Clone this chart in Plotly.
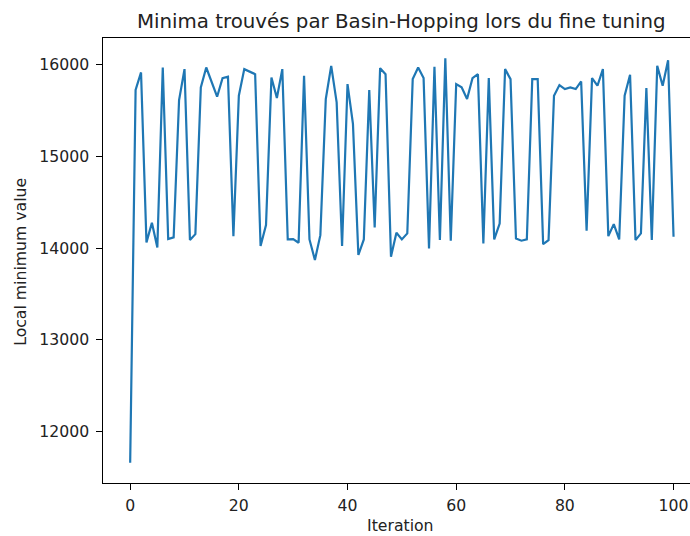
import plotly.graph_objects as go

# Local minima reached at each Basin-Hopping iteration
iterations = list(range(101))
minima = [
    11655, 15725, 15917, 14062, 14275, 14007, 15971, 14098, 14116, 15616,
    15953, 14087, 14152, 15754, 15971, 15812, 15652, 15855, 15870, 14130,
    15663, 15953, 15927, 15898, 14022, 14250, 15862, 15638, 15953, 14094,
    14098, 14058, 15880, 14094, 13870, 14141, 15627, 15989, 15590, 14022,
    15790, 15355, 13924, 14094, 15725, 14225, 15964, 15898, 13906, 14167,
    14094, 14160, 15844, 15971, 15855, 13996, 15978, 14087, 16072, 14080,
    15790, 15754, 15627, 15855, 15898, 14051, 15855, 14094, 14268, 15953,
    15844, 14105, 14080, 14094, 15844, 15844, 14043, 14087, 15663, 15779,
    15736, 15754, 15736, 15819, 14189, 15855, 15772, 15953, 14130, 14261,
    14094, 15663, 15891, 14087, 14160, 15746, 14087, 15989, 15772, 16051,
    14123,
]
x_ticks = [0, 20, 40, 60, 80, 100]
y_ticks = [12000, 13000, 14000, 15000, 16000]

title_text = "Minima trouvés par Basin-Hopping lors du fine tuning"
x_label = "Iteration"
y_label = "Local minimum value"

FONT = "DejaVu Sans"
W, H = 690, 536
ML, MR, MT, MB = 103, 0, 37.5, 53

fig = go.Figure(
    go.Scatter(
        x=iterations,
        y=minima,
        mode="lines",
        line=dict(color="#1f77b4", width=2.2),
        hoverinfo="skip",
    )
)

axis_common = dict(
    showgrid=False,
    zeroline=False,
    showline=True,
    linecolor="black",
    linewidth=1.2,
    ticks="outside",
    ticklen=5.5,
    tickwidth=1.2,
    tickcolor="black",
    tickformat="d",
    tickfont=dict(family=FONT, size=15.7, color="#222222"),
)

fig.update_layout(
    width=W,
    height=H,
    margin=dict(l=ML, r=MR, t=MT, b=MB, pad=0),
    paper_bgcolor="white",
    plot_bgcolor="white",
    showlegend=False,
    xaxis=dict(
        range=[-5, 103.03],
        tickvals=x_ticks,
        mirror=True,
        ticklabelstandoff=3,
        **axis_common,
    ),
    yaxis=dict(
        range=[11435, 16293],
        tickvals=y_ticks,
        ticklabelstandoff=4,
        **axis_common,
    ),
    annotations=[
        dict(
            text=title_text,
            xref="paper", yref="paper",
            x=0.509, y=1,
            xanchor="center", yanchor="bottom",
            yshift=3,
            showarrow=False,
            font=dict(family=FONT, size=19.8, color="#222222"),
        ),
        dict(
            text=x_label,
            xref="paper", yref="paper",
            x=0.506, y=0,
            xanchor="center", yanchor="middle",
            yshift=-42,
            showarrow=False,
            font=dict(family=FONT, size=15.7, color="#222222"),
        ),
        dict(
            text=y_label,
            xref="paper", yref="paper",
            x=0, y=0.497,
            xanchor="center", yanchor="middle",
            xshift=-82,
            textangle=-90,
            showarrow=False,
            font=dict(family=FONT, size=15.7, color="#222222"),
        ),
    ],
)

fig.write_html("out.html")
